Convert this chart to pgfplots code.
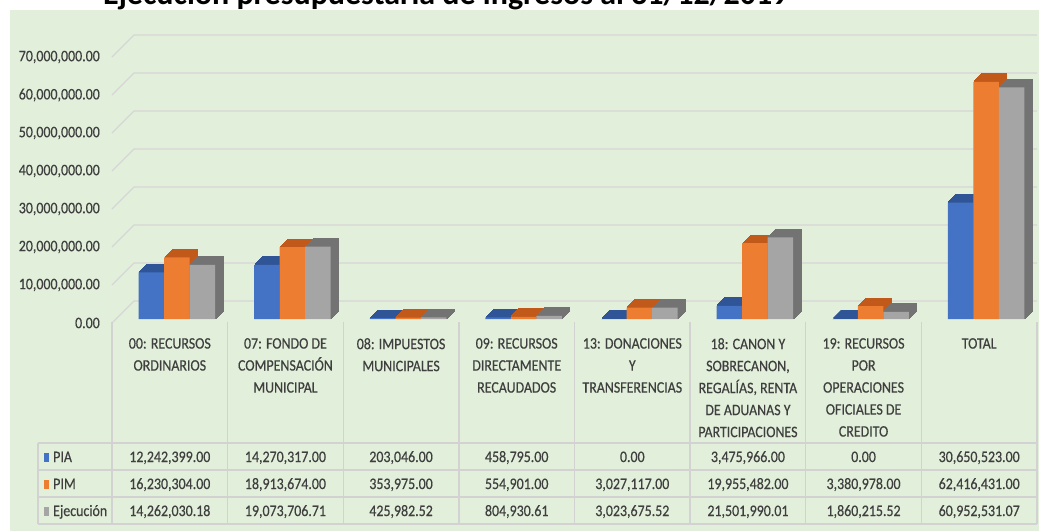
\documentclass[border=0pt]{standalone}
\usepackage{pgfplots}
\pgfplotsset{compat=1.18}
\usepackage{pgfplotstable}
\usepackage{fontspec}
\setmainfont{Carlito}
\newfontfamily\tabfont[FakeStretch=0.87,FakeBold=0.4]{Carlito}
\definecolor{bg}{HTML}{E2EFDA}
\definecolor{cblue}{HTML}{4472C4}
\definecolor{cblued}{HTML}{2F5597}
\definecolor{corange}{HTML}{ED7D31}
\definecolor{corangd}{HTML}{C0591A}
\definecolor{cgray}{HTML}{A5A5A5}
\definecolor{cgrayd}{HTML}{737373}
\definecolor{gridc}{HTML}{D6D6D6}
\definecolor{tlin}{HTML}{D2D2D2}
\definecolor{txt}{HTML}{3F3F3F}

\pgfplotstableread{
x pia pim eje
0 12242399 16230304 14262030.18
1 14270317 18913674 19073706.71
2 203046 353975 425982.52
3 458795 554901 804930.61
4 0 3027117 3023675.52
5 3475966 19955482 21501990.01
6 0 3380978 1860215.52
7 30650523 62416431 60952531.07
}\data

\newcommand{\tf}{\tabfont\fontsize{16}{22}\selectfont\color{txt}}

\begin{document}
\begin{tikzpicture}[x=1pt,y=1pt]
\useasboundingbox (0,0) rectangle (1039,531);
\fill[white] (0,0) rectangle (1039,531);
\fill[bg] (10,0) rectangle (1039,521);
\node[anchor=base west, inner sep=0pt, font=\fontsize{32}{38}\selectfont\bfseries] at (103,526) {Ejecución presupuestaria de ingresos al 31/12/2019};
\begin{axis}[
  at={(112pt,212pt)}, anchor=south west,
  scale only axis, width=925pt, height=266pt,
  xmin=-0.5, xmax=7.5, ymin=0, ymax=70000000,
  clip=false,
  scaled y ticks=false,
  axis line style={draw=none},
  tick style={draw=none},
  major tick length=0pt,
  ytick={0,10000000,20000000,30000000,40000000,50000000,60000000,70000000},
  yticklabels={{0.00},{10,000,000.00},{20,000,000.00},{30,000,000.00},{40,000,000.00},{50,000,000.00},{60,000,000.00},{70,000,000.00}},
  yticklabel style={anchor=east, inner sep=0pt, xshift=-12pt, yshift=-4pt, font=\tf},
  xtick={0,1,2,3,4,5,6,7},
  xticklabels={{00: RECURSOS\\ORDINARIOS},
               {07: FONDO DE\\COMPENSACIÓN\\MUNICIPAL},
               {08: IMPUESTOS\\MUNICIPALES},
               {09: RECURSOS\\DIRECTAMENTE\\RECAUDADOS},
               {13: DONACIONES\\Y\\TRANSFERENCIAS},
               {18: CANON Y\\SOBRECANON,\\REGALÍAS, RENTA\\DE ADUANAS Y\\PARTICIPACIONES},
               {19: RECURSOS\\POR\\OPERACIONES\\OFICIALES DE\\CREDITO},
               {TOTAL}},
  xticklabel style={anchor=north, inner sep=0pt, yshift=-19pt, align=center, font=\tf},
]
% back-wall gridlines
\pgfplotsinvokeforeach{0,10000000,20000000,30000000,40000000,50000000,60000000,70000000}{
  \draw[gridc, line width=1.4pt] ([yshift=-4pt]axis cs:-0.5,#1) -- ([xshift=22pt,yshift=18pt]axis cs:-0.5,#1) -- ([yshift=18pt]axis cs:7.5,#1);
}
% PIA
\pgfplotsinvokeforeach{1,2,3,4,5,6,7,8}{
  \addplot[ybar, bar width=25.5pt, bar shift=-18.5pt, fill=cblued, draw=cblued, line width=1.1pt, xshift=#1pt, yshift=#1pt] table[x=x,y=pia]{\data};
}
\addplot[ybar, bar width=25.5pt, bar shift=-18.5pt, fill=cblue, draw=none] table[x=x,y=pia]{\data};
% PIM
\pgfplotsinvokeforeach{1,2,3,4,5,6,7,8}{
  \addplot[ybar, bar width=25.5pt, bar shift=7pt, fill=corangd, draw=corangd, line width=1.1pt, xshift=#1pt, yshift=#1pt] table[x=x,y=pim]{\data};
}
\addplot[ybar, bar width=25.5pt, bar shift=7pt, fill=corange, draw=none] table[x=x,y=pim]{\data};
% Ejecucion
\pgfplotsinvokeforeach{1,2,3,4,5,6,7,8}{
  \addplot[ybar, bar width=25.5pt, bar shift=32.5pt, fill=cgrayd, draw=cgrayd, line width=1.1pt, xshift=#1pt, yshift=#1pt] table[x=x,y=eje]{\data};
}
\addplot[ybar, bar width=25.5pt, bar shift=32.5pt, fill=cgray, draw=none] table[x=x,y=eje]{\data};

% data table lines
\pgfplotsinvokeforeach{-0.5,0.5,1.5,2.5,3.5,4.5,5.5,6.5,7.5}{
  \draw[tlin, line width=1.3pt] ([yshift=-3pt]axis cs:#1,0) -- ([yshift=-205pt]axis cs:#1,0);
}
\pgfplotsinvokeforeach{-124,-151,-178,-205}{
  \draw[tlin, line width=1.3pt] ([xshift=-74pt,yshift=#1pt]axis cs:-0.5,0) -- ([yshift=#1pt]axis cs:7.5,0);
}
\draw[tlin, line width=1.3pt] ([xshift=-74pt,yshift=-124pt]axis cs:-0.5,0) -- ([xshift=-74pt,yshift=-205pt]axis cs:-0.5,0);

% legend keys
\fill[cblue] ([xshift=-68pt,yshift=-143pt]axis cs:-0.5,0) rectangle ++(5pt,9.5pt);
\fill[corange] ([xshift=-68pt,yshift=-170pt]axis cs:-0.5,0) rectangle ++(5pt,9.5pt);
\fill[cgray] ([xshift=-68pt,yshift=-197pt]axis cs:-0.5,0) rectangle ++(5pt,9.5pt);
\node[anchor=base west, inner sep=0pt, font=\tf] at ([xshift=-59pt,yshift=-143pt]axis cs:-0.5,0) {PIA};
\node[anchor=base west, inner sep=0pt, font=\tf] at ([xshift=-59pt,yshift=-170pt]axis cs:-0.5,0) {PIM};
\node[anchor=base west, inner sep=0pt, font=\tf] at ([xshift=-59pt,yshift=-197pt]axis cs:-0.5,0) {Ejecución};

% PIA row
\node[anchor=base, inner sep=0pt, font=\tf] at ([yshift=-143pt]axis cs:0,0) {12,242,399.00};
\node[anchor=base, inner sep=0pt, font=\tf] at ([yshift=-143pt]axis cs:1,0) {14,270,317.00};
\node[anchor=base, inner sep=0pt, font=\tf] at ([yshift=-143pt]axis cs:2,0) {203,046.00};
\node[anchor=base, inner sep=0pt, font=\tf] at ([yshift=-143pt]axis cs:3,0) {458,795.00};
\node[anchor=base, inner sep=0pt, font=\tf] at ([yshift=-143pt]axis cs:4,0) {0.00};
\node[anchor=base, inner sep=0pt, font=\tf] at ([yshift=-143pt]axis cs:5,0) {3,475,966.00};
\node[anchor=base, inner sep=0pt, font=\tf] at ([yshift=-143pt]axis cs:6,0) {0.00};
\node[anchor=base, inner sep=0pt, font=\tf] at ([yshift=-143pt]axis cs:7,0) {30,650,523.00};
% PIM row
\node[anchor=base, inner sep=0pt, font=\tf] at ([yshift=-170pt]axis cs:0,0) {16,230,304.00};
\node[anchor=base, inner sep=0pt, font=\tf] at ([yshift=-170pt]axis cs:1,0) {18,913,674.00};
\node[anchor=base, inner sep=0pt, font=\tf] at ([yshift=-170pt]axis cs:2,0) {353,975.00};
\node[anchor=base, inner sep=0pt, font=\tf] at ([yshift=-170pt]axis cs:3,0) {554,901.00};
\node[anchor=base, inner sep=0pt, font=\tf] at ([yshift=-170pt]axis cs:4,0) {3,027,117.00};
\node[anchor=base, inner sep=0pt, font=\tf] at ([yshift=-170pt]axis cs:5,0) {19,955,482.00};
\node[anchor=base, inner sep=0pt, font=\tf] at ([yshift=-170pt]axis cs:6,0) {3,380,978.00};
\node[anchor=base, inner sep=0pt, font=\tf] at ([yshift=-170pt]axis cs:7,0) {62,416,431.00};
% Ejecucion row
\node[anchor=base, inner sep=0pt, font=\tf] at ([yshift=-197pt]axis cs:0,0) {14,262,030.18};
\node[anchor=base, inner sep=0pt, font=\tf] at ([yshift=-197pt]axis cs:1,0) {19,073,706.71};
\node[anchor=base, inner sep=0pt, font=\tf] at ([yshift=-197pt]axis cs:2,0) {425,982.52};
\node[anchor=base, inner sep=0pt, font=\tf] at ([yshift=-197pt]axis cs:3,0) {804,930.61};
\node[anchor=base, inner sep=0pt, font=\tf] at ([yshift=-197pt]axis cs:4,0) {3,023,675.52};
\node[anchor=base, inner sep=0pt, font=\tf] at ([yshift=-197pt]axis cs:5,0) {21,501,990.01};
\node[anchor=base, inner sep=0pt, font=\tf] at ([yshift=-197pt]axis cs:6,0) {1,860,215.52};
\node[anchor=base, inner sep=0pt, font=\tf] at ([yshift=-197pt]axis cs:7,0) {60,952,531.07};
\end{axis}
\end{tikzpicture}
\end{document}
